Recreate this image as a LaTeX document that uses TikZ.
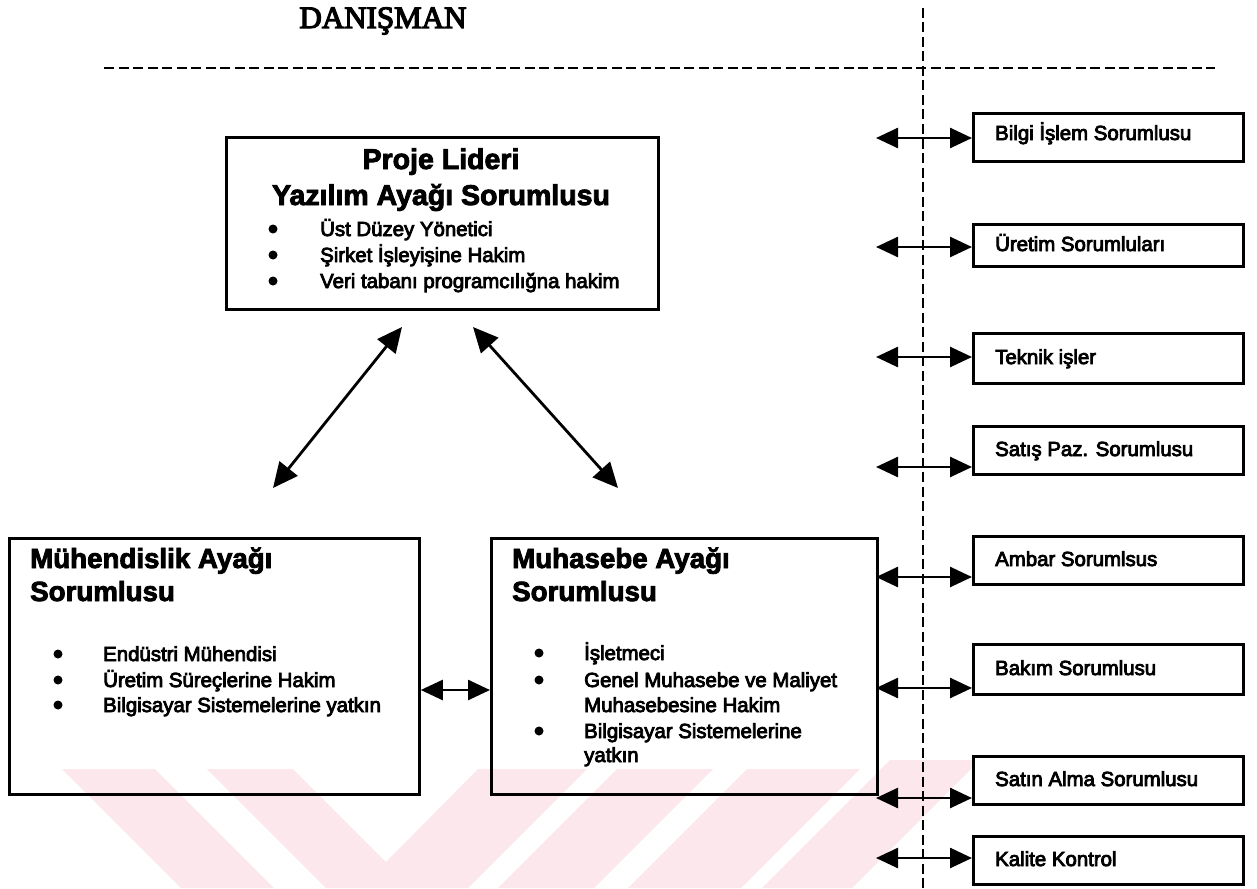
\documentclass[tikz,border=0pt]{standalone}
\usepackage{fontspec}
\setmainfont{Liberation Sans}
\newfontfamily\bodyface[FakeBold=4]{Liberation Sans}
\newfontfamily\headface[FakeBold=3]{Liberation Sans Bold}
\newfontfamily\serifface[FakeBold=4]{Liberation Serif}
\usetikzlibrary{arrows.meta}
\definecolor{wmpink}{RGB}{252,232,236}

\begin{document}
\begin{tikzpicture}[x=1pt,y=-1pt,
  frame/.style={draw=black,line width=2.8pt,inner sep=0pt,anchor=north west},
  rbox/.style={frame,fill=white,minimum width=270pt},
  body/.style={anchor=base west,inner sep=0pt,font=\bodyface\fontsize{20.4}{24}\selectfont},
  bul/.style={circle,fill=black,draw=none,inner sep=0pt,minimum size=9pt},
  head/.style={anchor=base west,inner sep=0pt,font=\headface\fontsize{27.7}{32}\selectfont},
  link/.style={line width=2.6pt,{Triangle[length=22pt,width=20pt]}-{Triangle[length=22pt,width=20pt]}},
  biglink/.style={line width=2.8pt,{Triangle[length=25pt,width=23pt]}-{Triangle[length=25pt,width=23pt]}},
  divider/.style={line width=2.4pt,dash pattern=on 10pt off 4.5pt},
  wm/.style={fill=wmpink,draw=none}
]
\fill[white] (0,0) rectangle (1257,888);
\useasboundingbox (0,0) rectangle (1257,888);

% faint background mark along the bottom edge
\fill[wm] (62,769) -- (155,769) -- (274,888) -- (181,888) -- cycle;
\fill[wm] (207,769) -- (293,769) -- (386,862) -- (478,769) -- (587,769) -- (468,888) -- (326,888) -- cycle;
\fill[wm] (617,769) -- (713,769) -- (594,888) -- (498,888) -- cycle;
\fill[wm] (747,769) -- (860,769) -- (741,888) -- (628,888) -- cycle;
\fill[wm] (890,760) -- (980,760) -- (852,888) -- (762,888) -- cycle;

% heading and dividers
\node[anchor=base,inner sep=0pt,font=\serifface\fontsize{31}{36}\selectfont] (danisman) at (383,28) {DANIŞMAN};
\coordinate (hL) at (104,68);
\coordinate (hR) at (1215,68);
\draw[divider] (hL) -- (hR);
\coordinate (vT) at (923,8);
\coordinate (vB) at (923,888);
\draw[divider] (vT) -- (vB);

% project leader
\node[frame,minimum width=432pt,minimum height=172pt] (proje) at (225,136) {};
\node[anchor=base,inner sep=0pt,font=\headface\fontsize{28.5}{32}\selectfont] (pT1) at (441,169) {Proje Lideri};
\node[anchor=base,inner sep=0pt,font=\headface\fontsize{28.5}{32}\selectfont] (pT2) at (441,205) {Yazılım Ayağı Sorumlusu};
\node[bul] (pb1) at (273,229) {};
\node[body] (p1) at (320,236) {Üst Düzey Yönetici};
\node[bul] (pb2) at (273,255) {};
\node[body] (p2) at (320,262) {Şirket İşleyişine Hakim};
\node[bul] (pb3) at (273,281) {};
\node[body] (p3) at (320,288) {Veri tabanı programcılığna hakim};

% engineering
\node[frame,minimum width=410pt,minimum height=256pt] (muh) at (8,537) {};
\node[head] (mT1) at (30,568) {Mühendislik Ayağı};
\node[head] (mT2) at (30,601) {Sorumlusu};
\node[bul] (mb1) at (58,654) {};
\node[body] (m1) at (103,661) {Endüstri Mühendisi};
\node[bul] (mb2) at (58,680) {};
\node[body] (m2) at (103,687) {Üretim Süreçlerine Hakim};
\node[bul] (mb3) at (58,705) {};
\node[body] (m3) at (103,712) {Bilgisayar Sistemelerine yatkın};

% accounting
\node[frame,minimum width=386pt,minimum height=256pt] (mhs) at (490,537) {};
\node[head] (aT1) at (512,568) {Muhasebe Ayağı};
\node[head] (aT2) at (512,601) {Sorumlusu};
\node[bul] (ab1) at (539,653) {};
\node[body] (a1) at (584,660) {İşletmeci};
\node[bul] (ab2) at (539,680) {};
\node[body] (a2) at (584,687) {Genel Muhasebe ve Maliyet};
\node[body] (a3) at (584,712) {Muhasebesine Hakim};
\node[bul] (ab3) at (539,731) {};
\node[body] (a4) at (584,738) {Bilgisayar Sistemelerine};
\node[body] (a5) at (584,762) {yatkın};

% links between the three legs
\coordinate (dl1) at (402,327);
\coordinate (dl2) at (273,488);
\coordinate (dr1) at (473,327);
\coordinate (dr2) at (618,488);
\draw[biglink] (dl1) -- (dl2);
\draw[biglink] (dr1) -- (dr2);
\coordinate (midY) at (450,690);
\draw[link] (muh.east |- midY) -- (mhs.west |- midY);

% departments on the right
\node[rbox,minimum height=48pt] (bilgi) at (972,112) {};
\node[body] (tbilgi) at (995,140) {Bilgi İşlem Sorumlusu};
\node[rbox,minimum height=42pt] (uretim) at (972,223) {};
\node[body] (turetim) at (995,251) {Üretim Sorumluları};
\node[rbox,minimum height=50pt] (teknik) at (972,332) {};
\node[body] (tteknik) at (995,364) {Teknik işler};
\node[rbox,minimum height=48pt] (satis) at (972,425) {};
\node[body] (tsatis) at (995,456) {Satış Paz. Sorumlusu};
\node[rbox,minimum height=48pt] (ambar) at (972,535) {};
\node[body] (tambar) at (995,566) {Ambar Sorumlsus};
\node[rbox,minimum height=50pt] (bakim) at (972,643) {};
\node[body] (tbakim) at (995,675) {Bakım Sorumlusu};
\node[rbox,minimum height=48pt] (satin) at (972,755) {};
\node[body] (tsatin) at (995,786) {Satın Alma Sorumlusu};
\node[rbox,minimum height=48pt] (kalite) at (972,835) {};
\node[body] (tkalite) at (995,866) {Kalite Kontrol};

\coordinate (eBilgi) at (876,138);
\coordinate (eUretim) at (876,247);
\coordinate (eTeknik) at (876,357);
\coordinate (eSatis) at (876,467);
\coordinate (eAmbar) at (876,577);
\coordinate (eBakim) at (876,688);
\coordinate (eSatin) at (876,798);
\coordinate (eKalite) at (876,858);
\draw[link] (eBilgi) -- (eBilgi -| bilgi.west);
\draw[link] (eUretim) -- (eUretim -| uretim.west);
\draw[link] (eTeknik) -- (eTeknik -| teknik.west);
\draw[link] (eSatis) -- (eSatis -| satis.west);
\draw[link] (eAmbar) -- (eAmbar -| ambar.west);
\draw[link] (eBakim) -- (eBakim -| bakim.west);
\draw[link] (eSatin) -- (eSatin -| satin.west);
\draw[link] (eKalite) -- (eKalite -| kalite.west);
\end{tikzpicture}
\end{document}
